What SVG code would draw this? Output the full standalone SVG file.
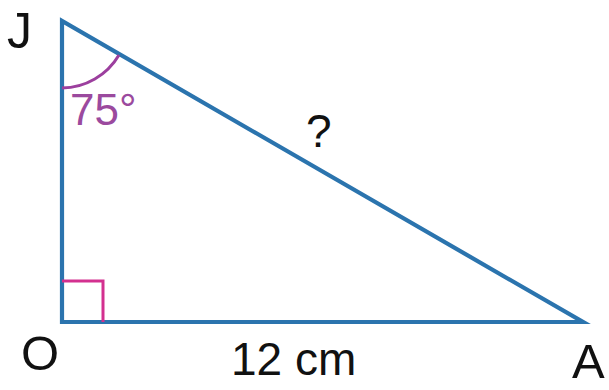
<svg xmlns="http://www.w3.org/2000/svg" width="609" height="390" viewBox="0 0 609 390">
<style>
.lbl{font-family:"Liberation Sans",Arial,sans-serif;fill:#111}
</style>
<rect width="609" height="390" fill="#fff"/>
<g id="connectors">
<polygon id="triangle" points="62,21 62,322 583,322" fill="none" stroke="#2b74ae" stroke-width="4.2" stroke-linejoin="miter" stroke-miterlimit="10"/>
<path id="right-angle" d="M62,281 H103 V322" fill="none" stroke="#d3308f" stroke-width="3"/>
<path id="angle-arc" d="M62,88 A67,67 0 0 0 119,55" fill="none" stroke="#9c3f9e" stroke-width="3"/>
</g>
<g id="J"><text class="lbl" x="7" y="48" font-size="50">J</text></g>
<g id="O"><text class="lbl" x="21" y="370" font-size="49">O</text></g>
<g id="A"><text class="lbl" x="572" y="378" font-size="49">A</text></g>
<g id="angle"><text x="70" y="125" font-size="44" font-family="Liberation Sans,Arial,sans-serif" fill="#9b4a9e">75°</text></g>
<g id="hyp"><text class="lbl" x="306" y="147" font-size="46">?</text></g>
<g id="base"><text class="lbl" x="231" y="375" font-size="46">12 cm</text></g>
</svg>
